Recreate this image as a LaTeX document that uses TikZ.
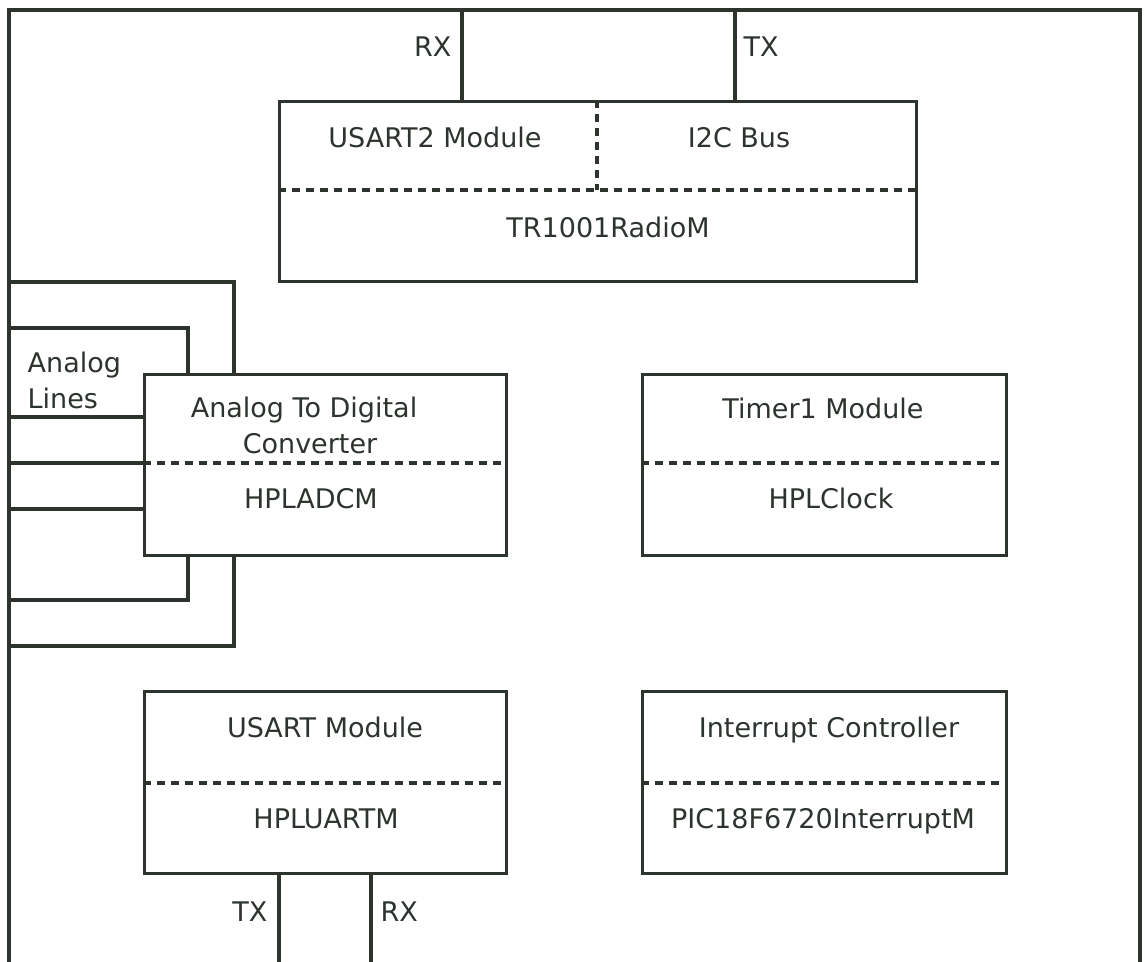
\documentclass[tikz,border=0pt]{standalone}
\usepackage{fontspec}
\setmainfont{DejaVu Sans}
\definecolor{ink}{RGB}{45,52,45}
\begin{document}
\begin{tikzpicture}[x=1pt,y=-1pt,
  line width=3.4pt, draw=ink,
  box/.style={draw=ink, line width=3.4pt, anchor=north west, inner sep=0pt},
  sep/.style={draw=ink, line width=3.4pt, dash pattern=on 8pt off 6pt},
  lbl/.style={text=ink, font=\fontsize{27}{36}\selectfont, inner sep=0pt, anchor=base},
  wire/.style={draw=ink, line width=3.4pt}]
\useasboundingbox (0,0) rectangle (1145,961);
\clip (0,0) rectangle (1145,961);
% outer frame
\coordinate (fbl) at (9,970);
\coordinate (ftl) at (9,10);
\coordinate (ftr) at (1140,10);
\coordinate (fbr) at (1140,970);
\draw[wire, line join=miter] (fbl) -- (ftl) -- (ftr) -- (fbr);
% radio box
\node[box, minimum width=637pt, minimum height=180pt] (radio) at (278,100) {};
\draw[sep] (radio.west |- 0,190) -- (radio.east |- 0,190);
\draw[sep] (597,100) -- (597,190);
\node[lbl] (usart2) at (435,147) {USART2 Module};
\node[lbl] (i2c) at (739,147) {I2C Bus};
\node[lbl] (tr) at (608,237) {TR1001RadioM};
\coordinate (rxt) at (462,10);
\coordinate (txt) at (735,10);
\draw[wire] (rxt) -- (rxt |- radio.north);
\draw[wire] (txt) -- (txt |- radio.north);
\node[lbl, anchor=base east] (rxl) at (453,56) {RX};
\node[lbl, anchor=base west] (txl) at (742,56) {TX};
% ADC box
\node[box, minimum width=362pt, minimum height=181pt] (adc) at (143,373) {};
\draw[sep] (adc.west |- 0,463) -- (adc.east |- 0,463);
\node[lbl] (adct1) at (304,417) {Analog To Digital};
\node[lbl] (adct2) at (310,453) {Converter};
\node[lbl] (adcm) at (311,508) {HPLADCM};
% timer
\node[box, minimum width=364pt, minimum height=181pt] (timer) at (641,373) {};
\draw[sep] (timer.west |- 0,463) -- (timer.east |- 0,463);
\node[lbl] (timert) at (823,418) {Timer1 Module};
\node[lbl] (clock) at (831,508) {HPLClock};
% usart
\node[box, minimum width=362pt, minimum height=182pt] (usart) at (143,690) {};
\draw[sep] (usart.west |- 0,783) -- (usart.east |- 0,783);
\node[lbl] (usartt) at (325,737) {USART Module};
\node[lbl] (uartm) at (326,828) {HPLUARTM};
% interrupt
\node[box, minimum width=364pt, minimum height=182pt] (intr) at (641,690) {};
\draw[sep] (intr.west |- 0,783) -- (intr.east |- 0,783);
\node[lbl] (intt) at (829,737) {Interrupt Controller};
\node[lbl] (intm) at (823,828) {PIC18F6720InterruptM};
% usart lines
\coordinate (txb) at (279,970);
\coordinate (rxb) at (371,970);
\draw[wire] (usart.south -| txb) -- (txb);
\draw[wire] (usart.south -| rxb) -- (rxb);
\node[lbl, anchor=base east] (txl2) at (269,921) {TX};
\node[lbl, anchor=base west] (rxl2) at (379,921) {RX};
% analog lines
\node[lbl, anchor=base west] (al1) at (26,372) {Analog};
\node[lbl, anchor=base west] (al2) at (26,408) {Lines};
\coordinate (a1) at (9,282);
\coordinate (a2) at (9,328);
\coordinate (a3) at (9,417);
\coordinate (a4) at (9,463);
\coordinate (a5) at (9,509);
\coordinate (a6) at (9,600);
\coordinate (a7) at (9,646);
\coordinate (xo) at (234,0);
\coordinate (xi) at (188,0);
\draw[wire, line join=miter] (a1) -| (adc.north -| xo);
\draw[wire, line join=miter] (a2) -| (adc.north -| xi);
\draw[wire] (a3) -- (a3 -| adc.west);
\draw[wire] (a4) -- (a4 -| adc.west);
\draw[wire] (a5) -- (a5 -| adc.west);
\draw[wire, line join=miter] (a6) -| (adc.south -| xi);
\draw[wire, line join=miter] (a7) -| (adc.south -| xo);
\end{tikzpicture}
\end{document}
